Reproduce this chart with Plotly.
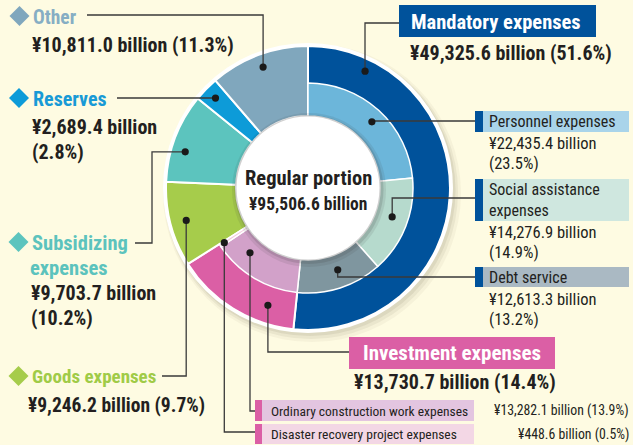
import math
import plotly.graph_objects as go

W, H = 633, 445

# Top-level categories (outer ring), clockwise from 12 o'clock
main_labels = ["Mandatory expenses", "Investment expenses", "Goods expenses",
               "Subsidizing expenses", "Reserves", "Other"]
main_values = [49325.6, 13730.7, 9246.2, 9703.7, 2689.4, 10811.0]   # ¥ billion
main_shares = [51.6, 14.4, 9.7, 10.2, 2.8, 11.3]                     # %
main_colors = ["#00529B", "#DB5FA5", "#A6CC4B", "#5CC4BE", "#0D9BD8", "#80A7BD"]

# Breakdown of mandatory and investment expenses (inner ring)
sub_labels = ["Personnel expenses", "Social assistance expenses", "Debt service",
              "Ordinary construction work expenses", "Disaster recovery project expenses"]
sub_values = [22435.4, 14276.9, 12613.3, 13282.1, 448.6]
sub_shares = [23.5, 14.9, 13.2, 13.9, 0.5]
sub_colors = ["#6CB6DA", "#B6DACD", "#7F969F", "#D2A1C9", "#F2C9DD"]

total_value = 95506.6
center_title = "Regular portion"

FONT = "Liberation Sans Narrow, Arial Narrow, Roboto Condensed, Roboto, sans-serif"
INK = "#231F20"
BG = "#FEFBE2"

# geometry of the rings (pixels)
CX, CY = 308, 188
R_OUT, R_MID, R_HOLE = 142, 105, 72


def domain(r):
    return dict(x=[(CX - r) / W, (CX + r) / W],
                y=[(H - CY - r) / H, (H - CY + r) / H])


fig = go.Figure()

fig.add_trace(go.Pie(
    labels=main_labels, values=main_values, sort=False, direction="clockwise",
    rotation=0, hole=R_HOLE / R_OUT, domain=domain(R_OUT),
    marker=dict(colors=main_colors, line=dict(color="white", width=2)),
    textinfo="none", hoverinfo="label+value", showlegend=False,
))

# inner ring: the sub-items, with the remaining categories left transparent
rest = sum(main_values[2:])
fig.add_trace(go.Pie(
    labels=sub_labels + ["rest"], values=sub_values + [rest], sort=False,
    direction="clockwise", rotation=0, hole=R_HOLE / R_MID, domain=domain(R_MID),
    marker=dict(colors=sub_colors + ["rgba(0,0,0,0)"],
                line=dict(color="white", width=[1.5] * len(sub_values) + [0])),
    textinfo="none", hoverinfo="skip", showlegend=False,
))

# angle helpers
main_start = {}
acc = 0.0
for lab, v in zip(main_labels, main_values):
    main_start[lab] = (acc, v)
    acc += v
sub_start = {}
acc = 0.0
for lab, v in zip(sub_labels, sub_values):
    sub_start[lab] = (acc, v)
    acc += v


def point(start_span, frac, r):
    s, v = start_span
    th = math.radians(360.0 * (s + frac * v) / total_value)
    return CX + r * math.sin(th), CY - r * math.cos(th)


shapes = []
annotations = []

# shadows and white rim behind the rings
for dx, dy, rr, a in [(4, 5, 149, 0.05), (3, 4, 147, 0.07), (2, 2.5, 145.5, 0.09)]:
    shapes.append(dict(type="circle", layer="below", xref="x", yref="y",
                       x0=CX + dx - rr, x1=CX + dx + rr, y0=CY + dy - rr, y1=CY + dy + rr,
                       fillcolor=f"rgba(90,80,50,{a})", line=dict(width=0)))
shapes.append(dict(type="circle", layer="below", xref="x", yref="y",
                   x0=CX - 145, x1=CX + 145, y0=CY - 145, y1=CY + 145,
                   fillcolor="white", line=dict(width=0)))

# center disc with a soft shadow
for dx, dy, rr, a in [(1, 2, 77, 0.10), (1, 1.5, 74.5, 0.16)]:
    shapes.append(dict(type="circle", layer="above", xref="x", yref="y",
                       x0=CX + dx - rr, x1=CX + dx + rr, y0=CY + dy - rr, y1=CY + dy + rr,
                       fillcolor=f"rgba(60,60,60,{a})", line=dict(width=0)))
shapes.append(dict(type="circle", layer="above", xref="x", yref="y",
                   x0=CX - 71.5, x1=CX + 71.5, y0=CY - 71.5, y1=CY + 71.5,
                   fillcolor="white", line=dict(width=0)))


def text(x, y, s, size, color=INK, bold=False, xanchor="left"):
    annotations.append(dict(x=x, y=y, xref="x", yref="y", text=f"<b>{s}</b>" if bold else s,
                            showarrow=False, xanchor=xanchor, yanchor="middle",
                            font=dict(family=FONT, size=size, color=color)))


def rect(x0, y0, x1, y1, color):
    shapes.append(dict(type="rect", layer="above", xref="x", yref="y",
                       x0=x0, x1=x1, y0=y0, y1=y1, fillcolor=color, line=dict(width=0)))


def diamond(x, y, h, color):
    shapes.append(dict(type="path", layer="above", xref="x", yref="y",
                       path=f"M {x - h} {y} L {x} {y - h} L {x + h} {y} L {x} {y + h} Z",
                       fillcolor=color, line=dict(width=0)))


def leader(dot, pts):
    xs = [dot[0]] + [p[0] for p in pts]
    ys = [dot[1]] + [p[1] for p in pts]
    path = "M " + " L ".join(f"{a:.1f} {b:.1f}" for a, b in zip(xs, ys))
    shapes.append(dict(type="path", layer="above", xref="x", yref="y", path=path,
                       line=dict(color="#3A3A3A", width=1.3)))
    rd = 3.6
    shapes.append(dict(type="circle", layer="above", xref="x", yref="y",
                       x0=dot[0] - rd, x1=dot[0] + rd, y0=dot[1] - rd, y1=dot[1] + rd,
                       fillcolor="#1A1A1A", line=dict(width=0)))


def money(v):
    return f"¥{v:,.1f} billion"


mv = dict(zip(main_labels, main_values))
ms = dict(zip(main_labels, main_shares))
sv = dict(zip(sub_labels, sub_values))
ss = dict(zip(sub_labels, sub_shares))

# ---- left-hand category labels ----
d = point(main_start["Other"], 0.5, 129)
leader(d, [(d[0], 15), (87, 15)])
diamond(19.5, 16, 10, main_colors[5])
text(31, 17, "Other", 19.5, "#86AEC4", bold=True)
text(30, 45, f"{money(mv['Other'])} ({ms['Other']}%)", 20, bold=True)

d = point(main_start["Reserves"], 0.5, 129)
leader(d, [(d[0], 98), (117, 98)])
diamond(19, 98, 10, main_colors[4])
text(31, 99, "Reserves", 20, "#189AD6", bold=True)
text(30, 127, money(mv["Reserves"]), 20, bold=True)
text(30, 152, f"({ms['Reserves']}%)", 20, bold=True)

d = point(main_start["Subsidizing expenses"], 0.38, 128)
leader(d, [(152, d[1]), (152, 243), (135, 243)])
diamond(18.5, 242, 10, main_colors[3])
text(30, 243, "Subsidizing", 20.5, "#5CC3BD", bold=True)
text(28, 268, "expenses", 20.5, "#5CC3BD", bold=True)
text(29, 293, money(mv["Subsidizing expenses"]), 20, bold=True)
text(29, 318, f"({ms['Subsidizing expenses']}%)", 20, bold=True)

d = point(main_start["Goods expenses"], 0.5, 126)
leader(d, [(d[0], 376), (162, 376)])
diamond(18.5, 376, 10, main_colors[2])
text(30, 376, "Goods expenses", 19, "#A0CB47", bold=True)
text(26, 405, f"{money(mv['Goods expenses'])} ({ms['Goods expenses']}%)", 19.5, bold=True)

# ---- mandatory expenses ----
d = point(main_start["Mandatory expenses"], 0.14, 130)
leader(d, [(d[0], 23), (399, 23)])
rect(399, 5, 596, 37, main_colors[0])
text(496, 22, "Mandatory expenses", 20.5, "white", bold=True, xanchor="center")
text(408, 53, f"{money(mv['Mandatory expenses'])} ({ms['Mandatory expenses']}%)", 20, bold=True)

right_boxes = [
    ("Personnel expenses", ["Personnel expenses"], 111, 132, "#A9D4EA", 0.52, 92),
    ("Social assistance expenses", ["Social assistance", "expenses"], 179, 221, "#CFE7DF", 0.454, 89),
    ("Debt service", ["Debt service"], 267, 287, "#AAB9C3", 0.455, 87),
]
line_y = {"Personnel expenses": 121, "Social assistance expenses": 198, "Debt service": 277}
for lab, lines, y0, y1, fill, frac, r in right_boxes:
    d = point(sub_start[lab], frac, r)
    leader(d, [(d[0], line_y[lab]), (475, line_y[lab])])
    rect(475, y0, 483, y1, main_colors[0])
    rect(483, y0, 629, y1, fill)
    y = y0 + 10.5
    for ln in lines:
        text(487, y, ln, 16)
        y += 21
    text(487, y + 0.5, money(sv[lab]), 16.5)
    text(487, y + 21, f"({ss[lab]}%)", 16.5)

# ---- investment expenses ----
d = point(main_start["Investment expenses"], 0.25, 124)
leader(d, [(d[0], 352), (349, 352)])
rect(349, 337, 555, 369, main_colors[1])
text(452, 353, "Investment expenses", 21, "white", bold=True, xanchor="center")
text(455, 382, f"{money(mv['Investment expenses'])} ({ms['Investment expenses']}%)", 20,
     bold=True, xanchor="center")

bottom_boxes = [
    ("Ordinary construction work expenses", 400, 421, "#E3C5E0", 0.717, 87),
    ("Disaster recovery project expenses", 424, 444, "#F3D7E5", 0.5, 100),
]
for lab, y0, y1, fill, frac, r in bottom_boxes:
    d = point(sub_start[lab], frac, r)
    yl = (y0 + y1) / 2 + 0.5 if y0 < 410 else 432
    leader(d, [(d[0], yl), (255, yl)])
    rect(255, y0, 262, y1, main_colors[1])
    rect(262, y0, 474, y1, fill)
    text(269, (y0 + y1) / 2, lab, 13.5)
    text(631, (y0 + y1) / 2, f"{money(sv[lab])} ({ss[lab]}%)", 13.8, xanchor="right")

# ---- centre ----
text(CX, 178, center_title, 20.5, bold=True, xanchor="center")
text(CX, 204, money(total_value), 17.5, bold=True, xanchor="center")

fig.update_layout(
    width=W, height=H, margin=dict(l=0, r=0, t=0, b=0),
    paper_bgcolor=BG, plot_bgcolor=BG,
    xaxis=dict(range=[0, W], visible=False, fixedrange=True, domain=[0, 1]),
    yaxis=dict(range=[H, 0], visible=False, fixedrange=True, domain=[0, 1]),
    shapes=shapes, annotations=annotations, showlegend=False,
)

fig.write_html("out.html")
